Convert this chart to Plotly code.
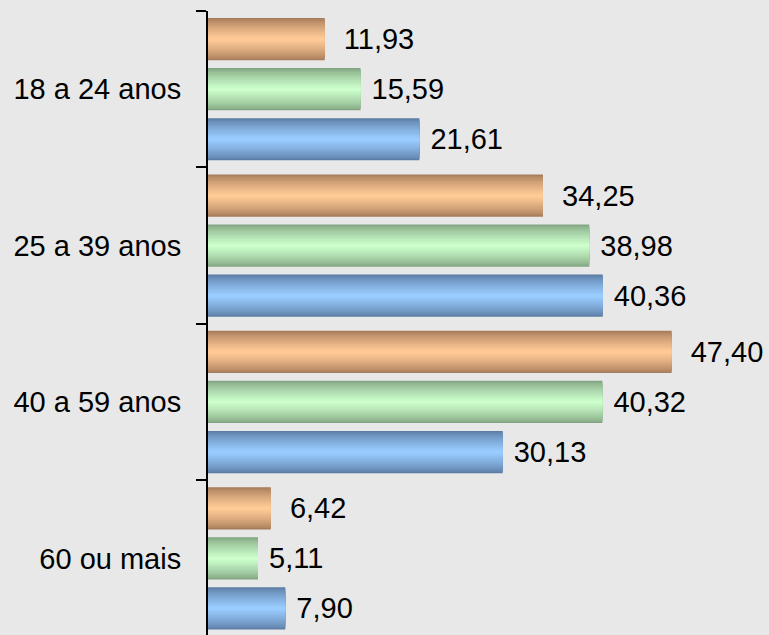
import plotly.graph_objects as go

# faixas etarias (top to bottom) and the three series per band
faixas = ["18 a 24 anos", "25 a 39 anos", "40 a 59 anos", "60 ou mais"]
serie_laranja = [11.93, 34.25, 47.40, 6.42]
serie_verde = [15.59, 38.98, 40.32, 5.11]
serie_azul = [21.61, 40.36, 30.13, 7.90]

# (values, edge colour, centre colour, offset of bar centre, label padding)
series = [
    (serie_laranja, (166, 124, 90), (255, 202, 150), -0.32, "\u00a0\u00a0"),
    (serie_verde, (130, 164, 130), (204, 255, 204), 0.0, "\u00a0"),
    (serie_azul, (92, 124, 164), (153, 204, 255), 0.32, "\u00a0"),
]

BAR_W = 0.27
N_LAYERS = 16
FONT = "Liberation Sans, Arial"


def lerp(c1, c2, t):
    return "rgb(%d,%d,%d)" % tuple(round(a + (b - a) * t) for a, b in zip(c1, c2))


fig = go.Figure()

# each bar is drawn as stacked overlay layers, narrowing towards the middle,
# to fake the dark-edge / light-centre gradient of the original
for vals, edge, centre, off, pad in series:
    for k in range(N_LAYERS):
        w = BAR_W * (1 - k / N_LAYERS)
        t = (k / (N_LAYERS - 1)) ** 0.75
        first = k == 0
        fig.add_trace(go.Bar(
            y=faixas, x=vals, orientation="h",
            width=w, offset=off - w / 2,
            marker=dict(color=lerp(edge, centre, t), line_width=0),
            text=vals if first else None,
            texttemplate=(pad + "%{x:.2f}") if first else None,
            textposition="outside" if first else "none",
            constraintext="none",
            cliponaxis=False,
            textfont=dict(family=FONT, size=29, color="black"),
            hoverinfo="skip",
            showlegend=False,
        ))

bg = "#e8e8e8"
fig.update_layout(
    width=769, height=635,
    barmode="overlay",
    separators=",.",
    paper_bgcolor=bg, plot_bgcolor=bg,
    margin=dict(l=208, r=0, t=11, b=0),
    font=dict(family=FONT, size=29, color="black"),
    xaxis=dict(range=[0, 57.36], visible=False),
    yaxis=dict(
        range=[3.49, -0.5],
        showline=True, linecolor="black", linewidth=2,
        ticks="outside", tickson="boundaries", ticklen=10, tickwidth=2, tickcolor="black",
        ticklabelstandoff=19,
        showgrid=False, zeroline=False,
    ),
)

# drop the default body margin so the figure fills the window
fig.write_html("out.html", config={"displayModeBar": False},
               post_script="document.body.style.margin='0';")
